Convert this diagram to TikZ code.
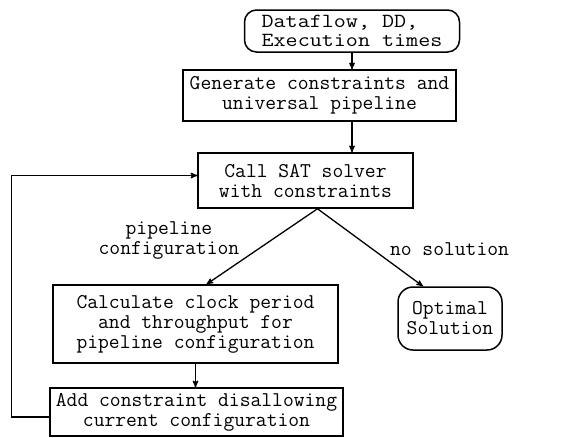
\documentclass[tikz,border=0pt]{standalone}
\usepackage{fontspec}
\usetikzlibrary{arrows}

\newcommand{\flowfont}{\ttfamily\fontsize{21}{20}\selectfont}
\newcommand{\wide}[1]{\scalebox{1.17}[1]{#1}}
\tikzset{
  flowbox/.style={draw,line width=1.5pt,inner sep=1pt,align=center,font=\flowfont},
  termbox/.style={flowbox,rounded corners=12pt},
  lbl/.style={font=\flowfont,align=center,inner sep=1pt},
}

\begin{document}
\begin{tikzpicture}[x=1pt,y=-1pt,>=stealth',line width=1.3pt]

\useasboundingbox (0,0) rectangle (581,437);

\node[termbox,align=left,minimum width=215pt,minimum height=42pt,
      font=\ttfamily\fontsize{20}{18.5}\selectfont]   (dd)   at (352,31)    {\wide{Dataflow, DD,}\\\wide{Execution times}};
\node[flowbox,minimum width=273pt,minimum height=51pt]   (gen)  at (319.5,95.5)  {Generate constraints and\\universal pipeline};
\node[flowbox,minimum width=215pt,minimum height=55pt]   (sat)  at (305.5,180.5) {Call SAT solver\\with constraints};
\node[flowbox,minimum width=285pt,minimum height=78pt]   (calc) at (195.5,324)   {Calculate clock period\\and throughput for\\pipeline configuration};
\node[termbox,rounded corners=15pt,minimum width=104pt,minimum height=63pt] (opt) at (450,318.5) {Optimal\\Solution};
\node[flowbox,minimum width=293pt,minimum height=48pt]   (add)  at (196.5,412)   {Add constraint disallowing\\current configuration};

	\path[->] (dd.south)  edge  (dd.south |- gen.north)
			(gen.south -| dd.south)  edge  (sat.north -| dd.south)
			([xshift=12pt]sat.south)  edge  node[lbl,pos=0.42,left=30pt] {pipeline\\configuration}  ([xshift=11pt]calc.north)
									edge  node[lbl,pos=0.52,right=16pt] {no solution}  ([xshift=-27pt]opt.north)
			(calc.south)  edge  (calc.south |- add.north);

	\draw[->] ([yshift=-5pt]add.west) -- ++(-38,0) |- ([yshift=5pt]sat.west);

\end{tikzpicture}
\end{document}
